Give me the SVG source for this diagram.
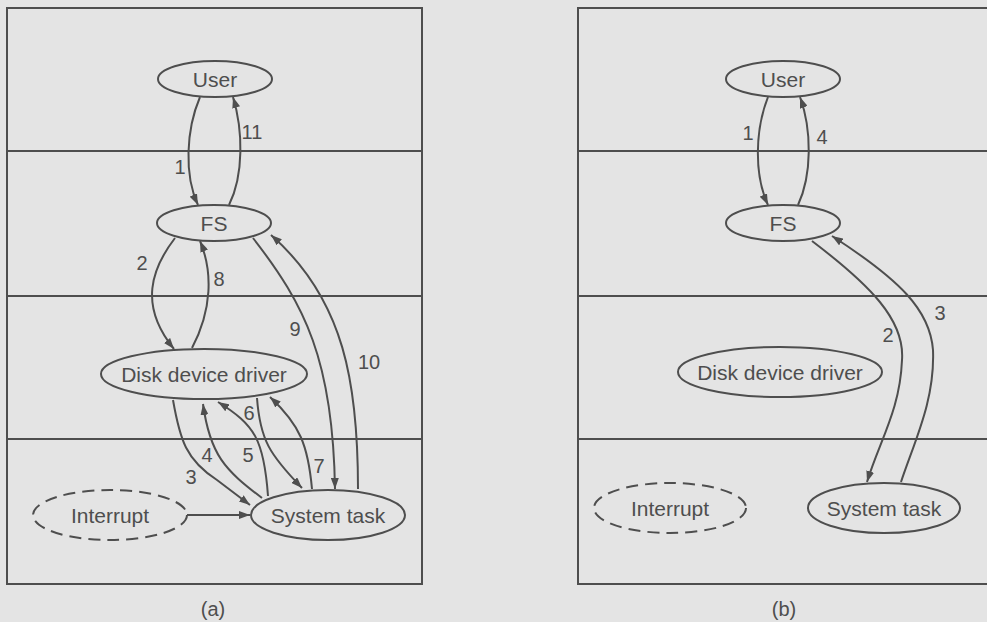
<svg xmlns="http://www.w3.org/2000/svg" width="987" height="622" viewBox="0 0 987 622">
<defs>
<marker id="arr" markerUnits="userSpaceOnUse" markerWidth="12" markerHeight="8" refX="11" refY="4" orient="auto">
<path d="M0,0 L11,4 L0,8 z" fill="#4e4e4e"/>
</marker>
<style>
.frame{fill:none;stroke:#4e4e4e;stroke-width:2}
.node{fill:none;stroke:#4e4e4e;stroke-width:2}
.dash{fill:none;stroke:#4e4e4e;stroke-width:2;stroke-dasharray:12,7}
.edge{fill:none;stroke:#4e4e4e;stroke-width:2}
.arw{marker-end:url(#arr)}
text{font-family:"Liberation Sans",Arial,sans-serif;fill:#4e4e4e}
.nl{font-size:21px;text-anchor:middle}
.el{font-size:20px;text-anchor:middle}
</style>
</defs>
<rect x="0" y="0" width="987" height="622" fill="#e4e4e4"/>

<g id="frame-a">
<rect class="frame" x="7" y="8" width="415" height="576"/>
<line class="frame" x1="7" y1="151" x2="422" y2="151"/>
<line class="frame" x1="7" y1="296" x2="422" y2="296"/>
<line class="frame" x1="7" y1="439" x2="422" y2="439"/>
</g>
<g id="frame-b">
<rect class="frame" x="578" y="8" width="430" height="576"/>
<line class="frame" x1="578" y1="151" x2="987" y2="151"/>
<line class="frame" x1="578" y1="296" x2="987" y2="296"/>
<line class="frame" x1="578" y1="439" x2="987" y2="439"/>
</g>

<g id="a-user"><ellipse class="node" cx="215" cy="79" rx="57" ry="18"/><text class="nl" x="215" y="87">User</text></g>
<g id="a-fs"><ellipse class="node" cx="214" cy="223" rx="57" ry="18"/><text class="nl" x="214" y="231">FS</text></g>
<g id="a-disk"><ellipse class="node" cx="204" cy="374" rx="103" ry="25"/><text class="nl" x="204" y="382">Disk device driver</text></g>
<g id="a-interrupt"><ellipse class="dash" cx="110" cy="515" rx="77" ry="25"/><text class="nl" x="110" y="523">Interrupt</text></g>
<g id="a-systask"><ellipse class="node" cx="328" cy="515" rx="77" ry="25"/><text class="nl" x="328" y="523">System task</text></g>

<g id="b-user"><ellipse class="node" cx="783" cy="79" rx="57" ry="18"/><text class="nl" x="783" y="87">User</text></g>
<g id="b-fs"><ellipse class="node" cx="783" cy="223" rx="57" ry="18"/><text class="nl" x="783" y="231">FS</text></g>
<g id="b-disk"><ellipse class="node" cx="780" cy="372" rx="102" ry="25"/><text class="nl" x="780" y="380">Disk device driver</text></g>
<g id="b-interrupt"><ellipse class="dash" cx="670" cy="508" rx="76" ry="25"/><text class="nl" x="670" y="516">Interrupt</text></g>
<g id="b-systask"><ellipse class="node" cx="884" cy="508" rx="76" ry="25"/><text class="nl" x="884" y="516">System task</text></g>

<g id="connectors">
<!-- panel a -->
<path class="edge arw" d="M200,97 C186,130 184,175 198,205"/>
<path class="edge arw" d="M229,205 C244,175 243,130 233,97"/>
<path class="edge arw" d="M175,238 C152,268 138,305 174,349"/>
<path class="edge arw" d="M192,348 C212,310 213,272 200,241"/>
<path class="edge arw" d="M253,238 C305,305 333,360 335,489"/>
<path class="edge arw" d="M358,489 C358,385 345,300 271,235"/>
<path class="edge arw" d="M173,400 C180,440 186,460 217,480 L250,505"/>
<path class="edge arw" d="M262,498 C225,470 210,455 203,404"/>
<path class="edge arw" d="M268,496 C264,440 255,425 218,402"/>
<path class="edge arw" d="M257,398 C260,440 270,455 302,488"/>
<path class="edge arw" d="M312,489 C308,445 300,425 270,397"/>
<path class="edge arw" d="M187,515 L250,515"/>
<!-- panel b -->
<path class="edge arw" d="M768,97 C755,130 754,175 768,205"/>
<path class="edge arw" d="M798,205 C812,175 812,130 800,97"/>
<path class="edge arw" d="M812,241 C870,285 905,320 902,360 C900,410 880,440 867,482"/>
<path class="edge arw" d="M901,482 C915,440 935,400 933,350 C930,310 900,280 832,236"/>
</g>

<g id="labels">
<text class="el" x="180" y="174">1</text>
<text class="el" x="252" y="139">11</text>
<text class="el" x="142" y="270">2</text>
<text class="el" x="219" y="286">8</text>
<text class="el" x="295" y="336">9</text>
<text class="el" x="369" y="369">10</text>
<text class="el" x="191" y="484">3</text>
<text class="el" x="207" y="462">4</text>
<text class="el" x="248" y="462">5</text>
<text class="el" x="249" y="420">6</text>
<text class="el" x="319" y="473">7</text>
<text class="el" x="748" y="140">1</text>
<text class="el" x="822" y="144">4</text>
<text class="el" x="888" y="342">2</text>
<text class="el" x="940" y="320">3</text>
<text class="el" x="213" y="616">(a)</text>
<text class="el" x="784" y="616">(b)</text>
</g>
</svg>
